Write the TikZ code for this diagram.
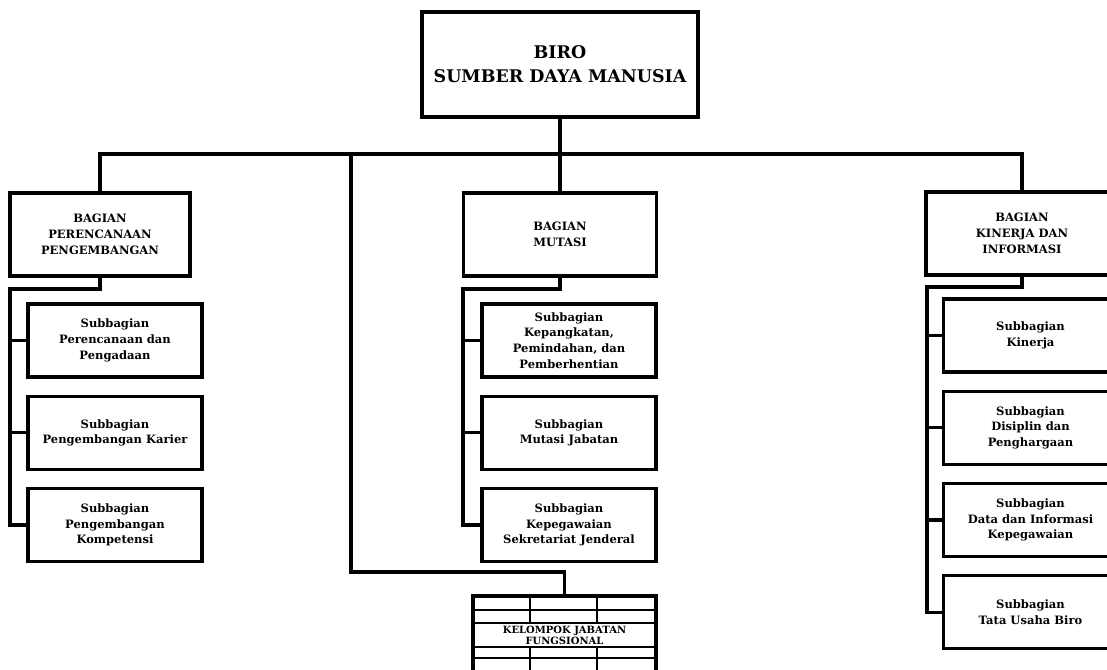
\documentclass[tikz,border=0pt]{standalone}
\usepackage{fontspec}
\setmainfont{DejaVu Serif}
\usetikzlibrary{positioning}

\begin{document}
\begin{tikzpicture}[
  x=0.025cm, y=-0.025cm,
  node distance=0.4cm,
  line width=2.3pt,
  birobox/.style={draw,rectangle,minimum width=6.9cm,minimum height=2.625cm,align=center,font=\bfseries\fontsize{12.4}{17}\selectfont},
  bagbox/.style={draw,rectangle,minimum height=2.075cm,align=center,font=\bfseries\fontsize{8.2}{11.4}\selectfont},
  subbox/.style={draw,rectangle,minimum width=4.35cm,minimum height=1.825cm,align=center,font=\bfseries\fontsize{8.2}{11.1}\selectfont},
  jfbox/.style={draw,rectangle,minimum width=4.575cm,minimum height=1.95cm,align=center,font=\bfseries\fontsize{7.1}{7.8}\selectfont},
  link/.style={line cap=rect}
]
\useasboundingbox (0,0) rectangle (1107,670);
\clip (0,0) rectangle (1107,670);

\node[birobox] (biro) at (560,64.5) {BIRO\\SUMBER DAYA MANUSIA};

\node[bagbox,minimum width=4.5cm] (perenc) at (100,234.5) {BAGIAN\\PERENCANAAN\\PENGEMBANGAN};
\node[bagbox,minimum width=4.825cm] (mutasi) at (560,234.5) {BAGIAN\\MUTASI};
\node[bagbox,minimum width=4.8cm] (kinerja) at (1022,233.5) {BAGIAN\\KINERJA DAN\\INFORMASI};

% subbagian perencanaan
\node[subbox] (p1) at (115,340.5) {Subbagian\\Perencanaan dan\\Pengadaan};
\node[subbox,below=of p1] (p2) {Subbagian\\Pengembangan Karier};
\node[subbox,below=of p2] (p3) {Subbagian\\Pengembangan\\Kompetensi};

% subbagian mutasi
\node[subbox] (m1) at (569,340.5) {Subbagian\\Kepangkatan,\\Pemindahan, dan\\Pemberhentian};
\node[subbox,below=of m1] (m2) {Subbagian\\Mutasi Jabatan};
\node[subbox,below=of m2] (m3) {Subbagian\\Kepegawaian\\Sekretariat Jenderal};

% subbagian kinerja
\node[subbox] (k1) at (1030.5,335.5) {Subbagian\\Kinerja};
\node[subbox,below=of k1] (k2) {Subbagian\\Disiplin dan\\Penghargaan};
\node[subbox,below=of k2] (k3) {Subbagian\\Data dan Informasi\\Kepegawaian};
\node[subbox,below=of k3] (k4) {Subbagian\\Tata Usaha Biro};

% kelompok jabatan fungsional
\node[jfbox] (jf) at (564.5,635) {KELOMPOK JABATAN\\FUNGSIONAL};
\foreach \y in {610,623,647,658}
  \draw[line width=1.5pt] (473,\y) -- (656,\y);
\foreach \x in {530,597} {
  \draw[line width=1.5pt] (\x,596) -- (\x,623);
  \draw[line width=1.5pt] (\x,647) -- (\x,674);
}

\coordinate (bus) at (0,154);
\coordinate (jfturn) at (351,572);
\coordinate (pspine) at (10,289);
\coordinate (mspine) at (463,289);
\coordinate (kspine) at (927,287);

\draw[link] (biro) -- (mutasi);
\draw[link] (perenc.north) |- (bus -| kinerja.north) -- (kinerja.north);
\draw[link] (bus -| jfturn) -- (jfturn) -| (jf.north);

\draw[link] (perenc.south) |- (pspine);
\draw[link] (mutasi.south) |- (mspine);
\draw[link] (kinerja.south) |- (kspine);
\foreach \s in {p1,p2,p3}
  \draw[link] (pspine) |- (\s.west);
\foreach \s in {m1,m2,m3}
  \draw[link] (mspine) |- (\s.west);
\foreach \s in {k1,k2,k3,k4}
  \draw[link] (kspine) |- (\s.west);

\end{tikzpicture}
\end{document}
